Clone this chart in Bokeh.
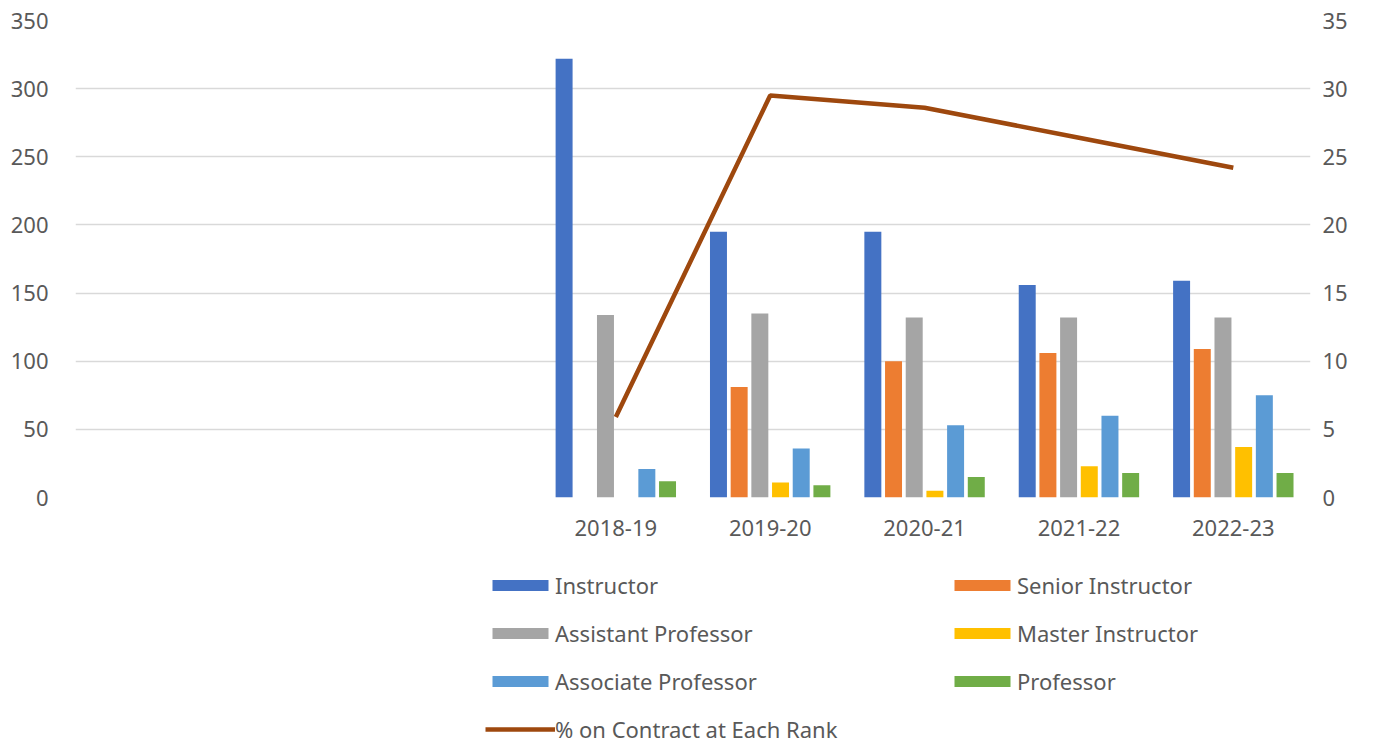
from bokeh.plotting import figure
from bokeh.layouts import column
from bokeh.models import (ColumnDataSource, FactorRange, Range1d, LinearAxis, FixedTicker,
                          Legend, LegendItem)
from bokeh.transform import dodge
from bokeh.embed import file_html
from bokeh.resources import INLINE

years = ["2018-19", "2019-20", "2020-21", "2021-22", "2022-23"]
blank_cats = [" ", "  ", "   "]
instructor = [322, 195, 195, 156, 159]
senior_instructor = [0, 81, 100, 106, 109]
assistant_prof = [134, 135, 132, 132, 132]
master_instructor = [0, 11, 5, 23, 37]
associate_prof = [21, 36, 53, 60, 75]
professor = [12, 9, 15, 18, 18]
pct_contract = [5.9, 29.5, 28.6, 26.4, 24.2]
left_ticks = [0, 50, 100, 150, 200, 250, 300, 350]
right_ticks = [0, 5, 10, 15, 20, 25, 30, 35]

series = [
    ("Instructor", "#4472C4"),
    ("Senior Instructor", "#ED7D31"),
    ("Assistant Professor", "#A5A5A5"),
    ("Master Instructor", "#FFC000"),
    ("Associate Professor", "#5B9BD5"),
    ("Professor", "#70AD47"),
]
line_name = "% on Contract at Each Rank"
line_color = "#9E480E"

FONT = "Noto Sans"
TXT = "#595959"
FS = "22px"

src = ColumnDataSource(dict(year=years, ins=instructor, sen=senior_instructor,
                            ast=assistant_prof, mas=master_instructor,
                            aso=associate_prof, pro=professor, pct=pct_contract))
keys = ["ins", "sen", "ast", "mas", "aso", "pro"]

p = figure(width=1382, height=549, output_backend="svg", toolbar_location=None,
           x_range=FactorRange(factors=blank_cats + years, range_padding=0),
           y_range=Range1d(0, 350),
           min_border_left=75, min_border_right=72, min_border_top=20, min_border_bottom=52)
p.outline_line_color = None
p.extra_y_ranges = {"pct": Range1d(0, 35)}

step = 0.134
for i, (name, col) in enumerate(series):
    p.vbar(x=dodge("year", (i - 2.5) * step, range=p.x_range), top=keys[i], width=0.11,
           source=src, fill_color=col, line_color=None)
p.line(x="year", y="pct", source=src, y_range_name="pct", line_color=line_color, line_width=4.5)

# axes
p.yaxis.ticker = FixedTicker(ticks=left_ticks)
ra = LinearAxis(y_range_name="pct", ticker=FixedTicker(ticks=right_ticks))
p.add_layout(ra, "right")
for ax in [p.yaxis[0], ra, p.xaxis[0]]:
    ax.axis_line_color = None
    ax.major_tick_line_color = None
    ax.minor_tick_line_color = None
    ax.major_tick_out = 0
    ax.major_label_text_font = FONT
    ax.major_label_text_font_size = FS
    ax.major_label_text_color = TXT
p.yaxis[0].major_label_standoff = 27
ra.major_label_standoff = 12
p.xaxis.major_label_standoff = 14
p.xgrid.grid_line_color = None
p.ygrid.grid_line_color = "#D9D9D9"
p.ygrid.grid_line_width = 1.3

# legend panel (dummy glyphs placed outside the visible range)
q = figure(width=1382, height=195, output_backend="svg", toolbar_location=None,
           x_range=Range1d(0, 1), y_range=Range1d(0, 1), min_border=0)
q.outline_line_color = None
q.axis.visible = False
q.grid.visible = False
handles = {}
for name, col in series:
    handles[name] = q.vbar(x=[-10], top=[-5], width=0.1, fill_color=col, line_color=None)
handles[line_name] = q.line(x=[-10, -9], y=[-5, -5], line_color=line_color, line_width=4.5)

order = ["Instructor", "Assistant Professor", "Associate Professor", line_name,
         "Senior Instructor", "Master Instructor", "Professor"]
items = [LegendItem(label=n, renderers=[handles[n]]) for n in order]

legend = Legend(items=items, ncols=2, nrows=4, location=(410, 0), orientation="vertical",
                glyph_width=70, glyph_height=14, label_height=30, label_width=374,
                spacing=18, padding=0, margin=0, label_standoff=0,
                label_text_font=FONT, label_text_font_size=FS, label_text_color=TXT,
                border_line_color=None, background_fill_alpha=0)
q.add_layout(legend, "center")

layout = column(p, q, spacing=0)
open("out.html", "w").write(file_html(layout, INLINE))
